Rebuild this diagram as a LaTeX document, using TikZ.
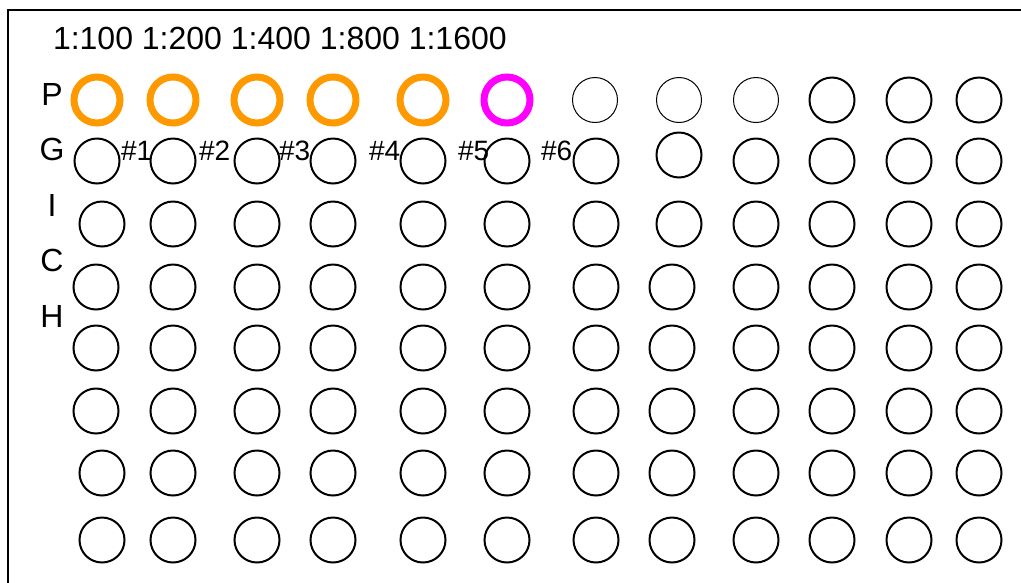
\documentclass[tikz,border=0pt]{standalone}
\usepackage{fontspec}
\setmainfont{Liberation Sans}
\usepackage{xcolor}
\usepackage{tikz}
\definecolor{wlorange}{HTML}{FF9900}
\definecolor{wlmagenta}{HTML}{FF00FF}

\begin{document}
\begin{tikzpicture}[x=1pt, y=-1pt, line width=2pt,
    well/.style={circle, draw, inner sep=0pt, minimum size=45pt},
    hitwell/.style={well, line width=7pt, minimum size=46pt},
    lbl/.style={inner sep=0pt, anchor=base west, font=\fontsize{32}{36}\selectfont},
    numlbl/.style={inner sep=0pt, anchor=base west, font=\fontsize{28}{32}\selectfont}]
  % The plate is measured in pixels of the source picture, y running down.
  % \wlP is the top row; the frame runs off the right and bottom edges.
  \def\wlP{100}
  \useasboundingbox (0,0) rectangle (1021,582);
  \clip (0,0) rectangle (1021,582);
  \fill[white] (0,0) rectangle (1021,582);

  % plate frame
  \draw[line width=1.6pt] (8,10) rectangle (1060,620);

  % dilutions and the row letters
  \node[lbl] (dil) at (52,49) {1:100 1:200 1:400 1:800 1:1600};
  \foreach \ch/\yb in {P/105, G/160, I/216, C/271, H/327}
    \node[lbl, anchor=base] (row\ch) at (52,\yb) {\ch};

  % top row: five orange wells, one magenta, then thin and plain ones
  \foreach \x [count=\c] in {97, 173, 257, 333, 423}
    \node[hitwell, draw=wlorange] (wP\c) at (\x,\wlP) {};
  \node[hitwell, draw=wlmagenta] (wP6) at (507,\wlP) {};
  \foreach \x [count=\c from 7] in {595, 679, 756}
    \node[well, line width=1pt] (wP\c) at (\x,\wlP) {};
  \foreach \x [count=\c from 10] in {832, 909, 979}
    \node[well] (wP\c) at (\x,\wlP) {};

  % the other seven rows; first and eighth columns wander a little,
  % and G8 sits higher than its neighbours
  \foreach \rw/\y/\xa/\xh/\yh in {G/161/97/679/155, I/224/102/679/224,
                                  C/287/96/672/287, H/348/96/672/348,
                                  F/411/96/672/411, S/473/102/672/473,
                                  E/540/102/672/540} {
    \foreach \x [count=\c] in {\xa, 173, 257, 333, 423, 507, 596}
      \node[well] (w\rw\c) at (\x,\y) {};
    \node[well] (w\rw8) at (\xh,\yh) {};
    \foreach \x [count=\c from 9] in {756, 832, 909, 979}
      \node[well] (w\rw\c) at (\x,\y) {};
  }

  % sample numbers
  \foreach \x [count=\n] in {120, 198, 278, 368, 457, 540}
    \node[numlbl] (num\n) at (\x,160) {\#\n};
\end{tikzpicture}
\end{document}
